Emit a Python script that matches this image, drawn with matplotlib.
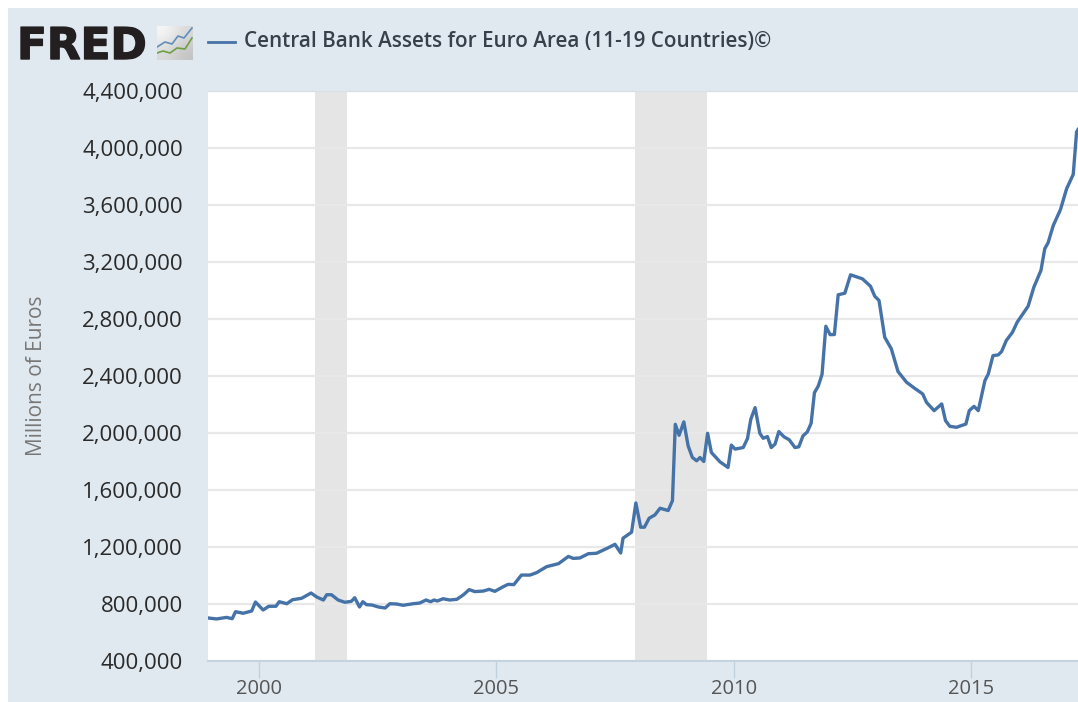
import matplotlib
matplotlib.use('Agg')
import matplotlib.pyplot as plt
import matplotlib.patheffects as pe
from matplotlib.patches import Rectangle

# decimal years
dates = [1999.0, 1999.18, 1999.39, 1999.51, 1999.58, 1999.74, 1999.92, 2000.0, 2000.16, 2000.28,
         2000.43, 2000.5, 2000.66, 2000.78, 2000.97, 2001.17, 2001.29, 2001.43, 2001.5, 2001.6,
         2001.74, 2001.88, 2002.02, 2002.09, 2002.19, 2002.26, 2002.34, 2002.45, 2002.59, 2002.73,
         2002.83, 2002.97, 2003.11, 2003.32, 2003.46, 2003.59, 2003.69, 2003.76, 2003.83, 2003.95,
         2004.09, 2004.24, 2004.38, 2004.5, 2004.62, 2004.8, 2004.92, 2005.04, 2005.22, 2005.32,
         2005.44, 2005.6, 2005.78, 2005.92, 2006.13, 2006.38, 2006.59, 2006.69, 2006.83, 2007.01,
         2007.18, 2007.43, 2007.57, 2007.69, 2007.74, 2007.92, 2008.01, 2008.11, 2008.19, 2008.29,
         2008.41, 2008.52, 2008.69, 2008.78, 2008.84, 2008.92, 2009.02, 2009.11, 2009.2, 2009.29,
         2009.36, 2009.44, 2009.52, 2009.6, 2009.78, 2009.95, 2010.02, 2010.1, 2010.27, 2010.36,
         2010.43, 2010.52, 2010.62, 2010.69, 2010.78, 2010.86, 2010.94, 2011.02, 2011.13, 2011.24,
         2011.36, 2011.44, 2011.53, 2011.62, 2011.7, 2011.77, 2011.85, 2011.93, 2012.01, 2012.1,
         2012.19, 2012.27, 2012.41, 2012.53, 2012.78, 2012.95, 2013.04, 2013.13, 2013.25, 2013.39,
         2013.53, 2013.71, 2013.85, 2014.05, 2014.13, 2014.29, 2014.45, 2014.53, 2014.62, 2014.76,
         2014.96, 2015.03, 2015.13, 2015.22, 2015.36, 2015.43, 2015.53, 2015.64, 2015.71, 2015.81,
         2015.94, 2016.04, 2016.27, 2016.39, 2016.54, 2016.62, 2016.69, 2016.8, 2016.95, 2017.08,
         2017.22, 2017.29, 2017.32]
assets = [702, 695, 706, 697, 746, 735, 751, 814, 758, 784,
          784, 816, 802, 830, 840, 877, 849, 828, 865, 865,
          828, 812, 819, 844, 779, 816, 795, 793, 779, 772,
          802, 800, 791, 802, 807, 828, 816, 828, 821, 837,
          828, 833, 865, 901, 887, 891, 903, 889, 922, 938,
          936, 1003, 1003, 1020, 1062, 1083, 1134, 1120, 1123, 1153,
          1156, 1195, 1219, 1158, 1262, 1304, 1509, 1339, 1339, 1402,
          1425, 1472, 1456, 1525, 2061, 1984, 2078, 1910, 1828, 1805,
          1828, 1800, 1998, 1863, 1798, 1758, 1915, 1887, 1898, 1961,
          2096, 2178, 1998, 1963, 1975, 1898, 1922, 2010, 1973, 1952,
          1898, 1903, 1980, 2008, 2068, 2283, 2329, 2411, 2749, 2690,
          2691, 2970, 2981, 3110, 3082, 3030, 2960, 2930, 2672, 2590,
          2431, 2356, 2321, 2274, 2215, 2157, 2204, 2087, 2047, 2040,
          2063, 2157, 2187, 2157, 2368, 2414, 2543, 2548, 2571, 2649,
          2707, 2778, 2890, 3023, 3141, 3293, 3335, 3457, 3567, 3714,
          3815, 4112, 4130]
assets = [v * 1000 for v in assets]

recessions = [(2001.25, 2001.92), (2008.0, 2009.5)]
ytick_vals = list(range(400000, 4400001, 400000))
xtick_pos = [2000.08, 2005.07, 2010.08, 2015.07]
xtick_labels = ['2000', '2005', '2010', '2015']
title = 'Central Bank Assets for Euro Area (11-19 Countries)©'

W, H = 1078, 702
panel = '#e1e9f0'
blue = '#4572a7'
plt.rcParams['font.family'] = ['Open Sans', 'DejaVu Sans']

fig = plt.figure(figsize=(W / 100, H / 100), dpi=100, facecolor='white')
fig.add_artist(Rectangle((8 / W, 0), (W - 8) / W, 694 / H, transform=fig.transFigure,
                         facecolor=panel, edgecolor='none', zorder=-1))

ax = fig.add_axes([208 / W, 1 - 661 / H, 870 / W, 570 / H])
ax.set_facecolor('white')
for a, b in recessions:
    ax.axvspan(a, b, color='#e5e5e5', lw=0, zorder=1)
ax.grid(axis='y', color='#e8e8e8', lw=1.6, zorder=2)
ax.plot(dates, assets, color=blue, lw=2.4, zorder=3, solid_joinstyle='round')
ax.set_xlim(1999.0, 2017.32)
ax.set_ylim(400000, 4400000)
ax.set_yticks(ytick_vals)
ax.set_yticklabels([f'{v:,}' for v in ytick_vals])
ax.set_xticks(xtick_pos)
ax.set_xticklabels(xtick_labels)
ax.tick_params(axis='y', length=0, pad=18, labelsize=16, labelcolor='#2a2a2a')
ax.tick_params(axis='x', length=12, width=1, color='#c0d0e0', pad=1, labelsize=14.5, labelcolor='#555555')
for s in ['left', 'right']:
    ax.spines[s].set_visible(False)
ax.spines['top'].set_color('#d8e0e6')
ax.spines['bottom'].set_color('#c6d3df')
ax.spines['bottom'].set_linewidth(1.5)

fig.text(37 / W, 1 - 376 / H, 'Millions of Euros', rotation=90, ha='center', va='center',
         fontsize=15, color='#777777')

# header: logo, legend key, series title
logo = fig.text(17 / W, 1 - 59 / H, 'FRED', ha='left', va='baseline', fontsize=31.5, fontweight='bold',
                color='#231f20', family='DejaVu Sans')
logo.set_path_effects([pe.withStroke(linewidth=1, foreground='#231f20')])

icon = fig.add_axes([157 / W, 1 - 60 / H, 36 / W, 34 / H])
icon.imshow([[0.97, 0.85], [0.85, 0.76]], cmap='gray', vmin=0, vmax=1, interpolation='bicubic',
            aspect='auto', extent=(157, 193, 60, 26))
icon.plot([157, 165, 172, 178, 184, 192], [47, 42, 44, 36, 38, 28], color='#5f8fb8', lw=1.2)
icon.plot([157, 163, 170, 177, 185, 192], [53, 51, 53, 48, 49, 38], color='#6da045', lw=1.2)
icon.set_xlim(157, 193)
icon.set_ylim(60, 26)
icon.axis('off')

fig.add_artist(plt.Line2D([208 / W, 235 / W], [1 - 41.5 / H, 1 - 41.5 / H], color=blue, lw=2))
fig.text(244 / W, 1 - 41 / H, title, ha='left', va='center', fontsize=14.9, fontweight='semibold',
         color='#37404b')

fig.savefig('out.png', dpi=100, facecolor='white')
